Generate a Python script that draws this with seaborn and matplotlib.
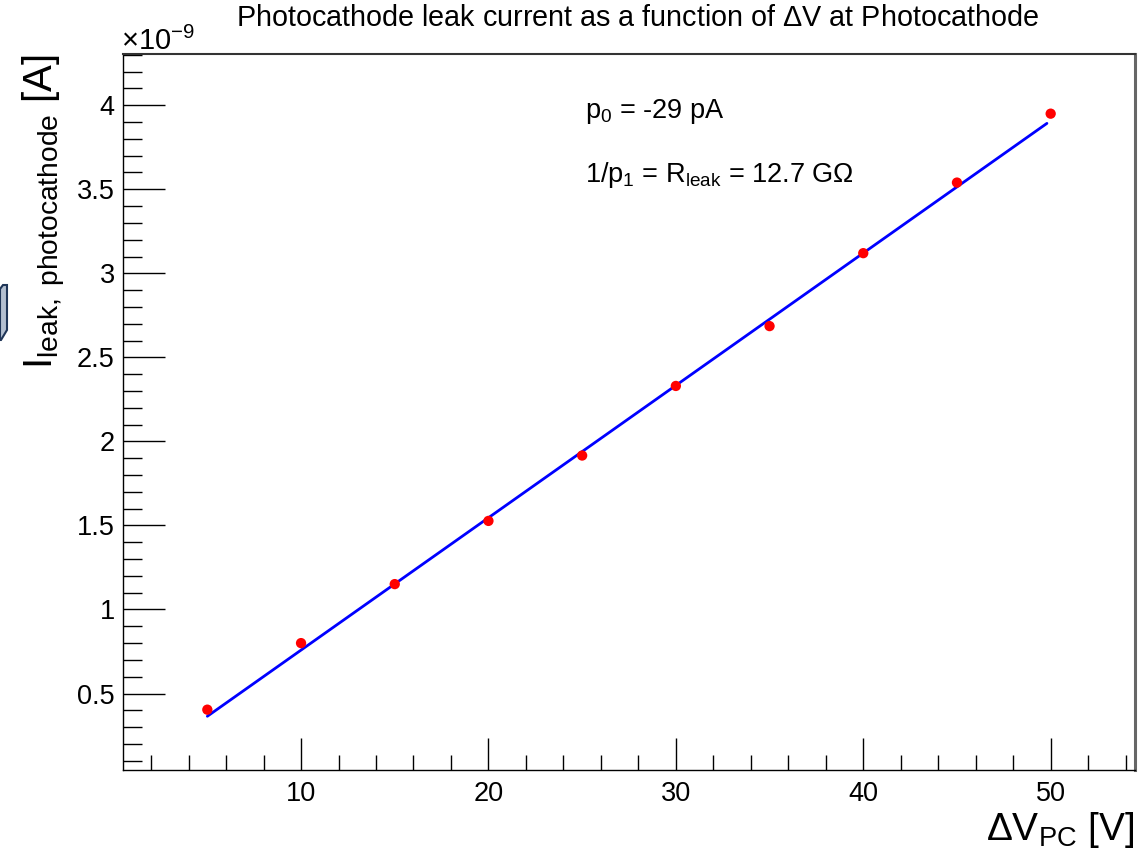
import numpy as np
import matplotlib
matplotlib.use("Agg")
import matplotlib.pyplot as plt
import seaborn as sns
import pandas as pd
from matplotlib.ticker import MultipleLocator, FuncFormatter
from matplotlib.patches import Polygon

# ---- data ----
delta_v = [5, 10, 15, 20, 25, 30, 35, 40, 45, 50]                       # V
i_leak_nA = [0.404, 0.80, 1.151, 1.527, 1.916, 2.33, 2.686, 3.12, 3.54, 3.95]  # x1e-9 A
p0_nA = -0.029          # fit offset (nA)
r_leak_GOhm = 12.7      # fit 1/p1 (GOhm)
fit_range = [5, 49.8]

title = "Photocathode leak current as a function of $\\Delta$V at Photocathode"
xlabel = "$\\Delta$V$_{\\mathrm{PC}}$ [V]"
ylabel = "I$_{\\mathrm{leak,\\ photocathode}}$ [A]"
text1 = "p$_{\\mathrm{0}}$ = -29 pA"
text2 = "1/p$_{\\mathrm{1}}$ = R$_{\\mathrm{leak}}$ = 12.7 G$\\Omega$"

sns.set_theme(style="white")
plt.rcParams['font.family'] = ['Liberation Sans', 'DejaVu Sans']
plt.rcParams['mathtext.fontset'] = 'custom'
plt.rcParams['mathtext.rm'] = 'Liberation Sans'
plt.rcParams['mathtext.it'] = 'Liberation Sans'
plt.rcParams['mathtext.bf'] = 'Liberation Sans:bold'
plt.rcParams['text.color'] = 'black'
plt.rcParams['axes.labelcolor'] = 'black'
plt.rcParams['xtick.color'] = 'black'
plt.rcParams['ytick.color'] = 'black'

W, H = 1145, 849
fig = plt.figure(figsize=(W / 100, H / 100), dpi=100)
fig.patch.set_facecolor('white')
L, R, T, B = 123, 1135, 54, 770
ax = fig.add_axes([L / W, 1 - B / H, (R - L) / W, (B - T) / H])

df = pd.DataFrame({"dv": delta_v, "i": i_leak_nA})
fx = np.linspace(fit_range[0], fit_range[1], 50)
fit_df = pd.DataFrame({"dv": fx, "i": p0_nA + fx / r_leak_GOhm})

sns.lineplot(data=fit_df, x="dv", y="i", ax=ax, color="#0000ff", lw=2.0, zorder=2)
sns.scatterplot(data=df, x="dv", y="i", ax=ax, color="#ff0000", s=55,
                edgecolor="none", zorder=3)

ax.set_xlim(0.5, 54.5)
ax.set_ylim(0.045, 4.305)

ax.xaxis.set_major_locator(MultipleLocator(10))
ax.xaxis.set_minor_locator(MultipleLocator(2))
ax.yaxis.set_major_locator(MultipleLocator(0.5))
ax.yaxis.set_minor_locator(MultipleLocator(0.1))
ax.yaxis.set_major_formatter(FuncFormatter(lambda v, p: f"{v:g}"))
ax.xaxis.set_major_formatter(FuncFormatter(lambda v, p: f"{v:g}"))

ax.tick_params(axis='both', which='both', direction='in', colors='black',
               labelcolor='black', labelsize=19.5, top=False, right=False)
ax.tick_params(axis='y', which='major', length=30, width=1.0, pad=6)
ax.tick_params(axis='y', which='minor', length=14, width=1.0)
ax.tick_params(axis='x', which='major', length=23, width=1.0, pad=8)
ax.tick_params(axis='x', which='minor', length=11, width=1.0)
ax.tick_params(axis='y', which='both', left=True)
ax.tick_params(axis='x', which='both', bottom=True)

for s in ['left', 'bottom']:
    ax.spines[s].set_color('black')
    ax.spines[s].set_linewidth(1.0)
ax.spines['right'].set_color('#666666')
ax.spines['right'].set_linewidth(2.2)
ax.spines['top'].set_color('#333333')
ax.spines['top'].set_linewidth(1.5)

ax.set_xlabel(xlabel, fontsize=28, loc='right', labelpad=2, color='black')
ax.set_ylabel(ylabel, fontsize=29, loc='top', labelpad=6, color='black')

fig.text(638 / W, 1 - 18 / H, title, ha='center', va='center', fontsize=20.7,
         color='black')
fig.text(121 / W, 1 - 50 / H, "$\\times$10$^{\\mathrm{-9}}$", ha='left', va='baseline',
         fontsize=21, color='black')

ax.text(585 / W, 1 - 118 / H, text1, transform=fig.transFigure, fontsize=19.5,
        ha='left', va='baseline', color='black')
ax.text(585 / W, 1 - 182 / H, text2, transform=fig.transFigure, fontsize=19.5,
        ha='left', va='baseline', color='black')

# small screenshot artifact on the left edge
poly = Polygon([(0, 289), (3, 285), (7, 285), (7, 330), (1, 340), (0, 340)],
               closed=True, facecolor='#b3bfd0', edgecolor='#1f3557', lw=1.5)
poly.set_transform(matplotlib.transforms.Affine2D().scale(1, -1).translate(0, H))
fig.patches.append(poly)

fig.savefig("out.png", dpi=100, facecolor='white')
